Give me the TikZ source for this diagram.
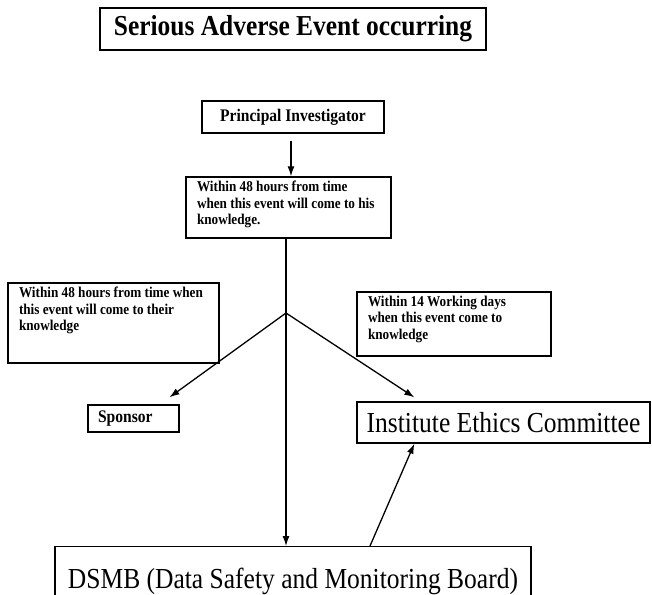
\documentclass[tikz,border=0pt]{standalone}
\usepackage{fontspec}
\setmainfont[FakeStretch=0.88]{Liberation Serif}
\usetikzlibrary{arrows.meta}

% small bold text inside the reporting boxes
\newcommand{\notefont}{\fontsize{15}{16.5}\selectfont\bfseries}
\newcommand{\notetext}[3]{\parbox[c][#1][t]{#2}{\raggedright #3}}

\tikzset{
  box/.style={draw, line width=1.4pt, inner sep=0pt},
  headbox/.style={box, font=\fontsize{28.9}{32}\selectfont\bfseries},
  rolebox/.style={box, font=\fontsize{17.7}{20}\selectfont\bfseries},
  notebox/.style={box, inner xsep=11pt, inner ysep=4pt, font=\notefont},
  bodybox/.style={box, font=\fontsize{29}{32}\selectfont},
  link/.style={->, line width=1.3pt},
  >={Latex[length=10pt,width=7pt]}
}

\begin{document}
\begin{tikzpicture}[x=1pt,y=-1pt]
  \clip (0,0) rectangle (652,594);
  \fill[white] (0,0) rectangle (652,594);

  % boxes
  \node[headbox, minimum width=386pt, minimum height=42pt] (sae) at (293,29) {Serious Adverse Event occurring};
  \node[rolebox, minimum width=182pt, minimum height=32pt] (pi) at (293,117) {Principal Investigator};
  \node[notebox] (pinote) at (288.5,207.5) {\notetext{53pt}{183pt}{Within 48 hours from time\\when this event will come to his\\knowledge.}};
  \node[notebox] (spnote) at (113.5,323) {\notetext{72pt}{189pt}{Within 48 hours from time when\\this event will come to their\\knowledge}};
  \node[notebox] (iecnote) at (454,324) {\notetext{56pt}{172pt}{Within 14 Working days\\when this event come to\\knowledge}};
  \node[rolebox, text width=71pt, inner xsep=10pt, align=left, minimum height=27pt] (sponsor) at (133.5,418.5) {Sponsor};
  \node[bodybox, minimum width=293pt, minimum height=41pt] (iec) at (503.5,422.5) {Institute Ethics Committee};
  \node[bodybox, anchor=north, minimum width=476pt, text height=42pt, text depth=14pt] (dsmb) at (293,546) {DSMB (Data Safety and Monitoring Board)};

  % arrows
  \coordinate (fork) at (286,313);
  \draw[link, shorten <=7pt] ([xshift=-2pt]pi.south) -- ([xshift=-2pt]pi.south |- pinote.north);
  \draw[link] (pinote.south -| fork) -- (dsmb.north -| fork);
  \draw[link] (fork) -- ([xshift=36pt,yshift=7pt]sponsor.north);
  \draw[link] (fork) -- ([xshift=58pt,yshift=4pt]iec.north west);
  \draw[link] ([xshift=77pt]dsmb.north) -- ([xshift=58pt]iec.south west);
\end{tikzpicture}
\end{document}
